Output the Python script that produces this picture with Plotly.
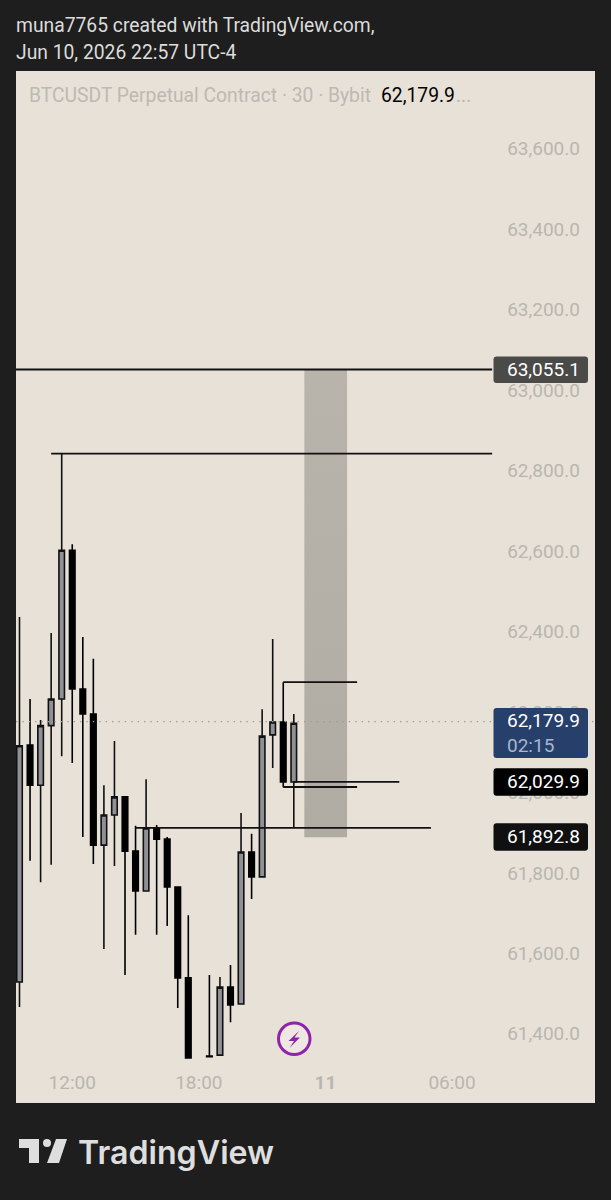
import plotly.graph_objects as go

# 30-minute candles, index 0 = first visible bar (None = bar not drawn)
idx   = list(range(27))
open_ = [61533,62122,62022,62170,62236,62606,62261,62199,61873,61948,61993,61858,61759,61916,61888,61769,61543,None,61349,61351,61520,61478,61856,61794,62147,62179,62030]
high  = [62440,62236,62184,62400,62846,62621,62390,62336,62022,62132,61993,61921,62037,61923,61893,61769,61699,None,61550,61545,61575,61953,61901,62211,62385,62278,62199]
low   = [61471,61834,61781,61824,62094,62077,61893,61826,61615,61821,61550,61650,61759,61650,61672,61468,61344,None,61346,61351,61433,61478,61739,61794,62065,62017,61916]
close = [62120,62022,62170,62236,62606,62261,62199,61873,61948,61993,61858,61759,61916,61888,61769,61543,61344,None,61347,61520,61476,61856,61794,62144,62179,62030,62176]

# Drawn horizontal levels: price, first bar, last bar
level_price = [63055.1, 62846, 61916, 62278, 62017.5, 62030]
level_start = [-0.4, 3.0, 11.0, 25.0, 25.0, 26.0]
level_end   = [44.8, 44.8, 39.0, 32.0, 32.0, 36.0]

box_left, box_right = 27.0, 31.05
box_top, box_bottom = 63055.1, 61892.8
last_price = 62179.9

price_ticks = [63600,63400,63200,63000,62800,62600,62400,62200,62000,61800,61600,61400]
price_tick_text = ["63,600.0","63,400.0","63,200.0","63,000.0","62,800.0","62,600.0","62,400.0","62,200.0","62,000.0","61,800.0","61,600.0","61,400.0"]
time_ticks = [5,17,29,41]
time_tick_text = ["12:00","18:00","<b>11</b>","06:00"]

W, H = 611, 1200
L, R, T, B = 16, 595, 71, 1103
BG, PANE, TICK = "#1e1e1e", "#e8e1d8", "#b9b6af"
FONT = "Roboto"
TICK_NUDGE = 4   # tick labels sit a little above their true price in the source

def px(x): return x / W
def py(y): return 1 - y / H
def ppath(points):
    return "M " + " L ".join(f"{px(a):.5f},{py(b):.5f}" for a, b in points) + " Z"
def round_rect(x0, y0, x1, y1, r=3):
    c = lambda a, b: f"{px(a):.5f},{py(b):.5f}"
    return (f"M {c(x0+r,y0)} L {c(x1-r,y0)} Q {c(x1,y0)} {c(x1,y0+r)} L {c(x1,y1-r)} Q {c(x1,y1)} {c(x1-r,y1)} "
            f"L {c(x0+r,y1)} Q {c(x0,y1)} {c(x0,y1-r)} L {c(x0,y0+r)} Q {c(x0,y0)} {c(x0+r,y0)} Z")

y_at = lambda y: 63055.1 - (y - 369.5) / 0.40236
x_at = lambda x: (x - 19.5) / 10.55

fig = go.Figure()

fig.add_trace(go.Scatter(
    x=[box_left, box_right, box_right, box_left, box_left],
    y=[box_top, box_top, box_bottom, box_bottom, box_top],
    mode="lines", line=dict(width=0), fill="toself",
    fillgradient=dict(type="vertical",
                      colorscale=[[0, "rgba(90,88,80,0.39)"], [1, "rgba(90,88,80,0.33)"]]),
    hoverinfo="skip", showlegend=False))

fig.add_trace(go.Scatter(
    x=[x_at(L), x_at(R)], y=[last_price, last_price], mode="lines",
    line=dict(color="#9d9c96", width=1.4, dash="1.4px 5px"),
    hoverinfo="skip", showlegend=False))

fig.add_trace(go.Candlestick(
    x=idx, open=open_, high=high, low=low, close=close,
    whiskerwidth=0,
    increasing=dict(line=dict(color="#111111", width=1.6), fillcolor="#8f9197"),
    decreasing=dict(line=dict(color="#000000", width=1.6), fillcolor="#000000"),
    showlegend=False, hoverinfo="skip"))

for p, a, b in zip(level_price, level_start, level_end):
    fig.add_trace(go.Scatter(x=[a, b], y=[p, p], mode="lines",
                             line=dict(color="#111111", width=1.8),
                             hoverinfo="skip", showlegend=False))

annotations = []
def text(x, y, s, color, size, family=FONT, weight=None):
    font = dict(family=family, size=size, color=color)
    if weight:
        font["weight"] = weight
    annotations.append(dict(
        xref="paper", yref="paper", x=px(x - 2), y=py(y), xanchor="left", yanchor="middle",
        text=s, showarrow=False, font=font))

text(16, 25, "muna7765 created with TradingView.com,", "#dcdcdc", 19.3)
text(16, 52, "Jun 10, 2026 22:57 UTC-4", "#dcdcdc", 19.3)
text(29, 96, "BTCUSDT Perpetual Contract · 30 · Bybit", "#bcb9b2", 19.3)
text(381, 96, "62,179.9", "#000000", 19.3)
text(456, 96, "...", "#bcb9b2", 19.3)
text(78, 1152, "TradingView", "#dedede", 32.2, family="Inter", weight=600)

shapes = [
    dict(type="path", xref="paper", yref="paper", line_width=0, fillcolor="#4a4a48",
         path=round_rect(493.5, 356.5, 588, 383)),
    dict(type="path", xref="paper", yref="paper", line_width=0, fillcolor="#27406b",
         path=round_rect(493.5, 708, 588, 758)),
    dict(type="path", xref="paper", yref="paper", line_width=0, fillcolor="#000000",
         path=round_rect(493.5, 768.3, 588, 795.7)),
    dict(type="path", xref="paper", yref="paper", line_width=0, fillcolor="#101010",
         path=round_rect(493.5, 823.3, 588, 850.7)),
    dict(type="path", xref="paper", yref="paper", line_width=0, fillcolor="#dedede",
         path=ppath([(19,1139),(39,1139),(39,1163),(29,1163),(29,1148),(19,1148)])),
    dict(type="circle", xref="paper", yref="paper", line_width=0, fillcolor="#dedede",
         x0=px(43), x1=px(51), y0=py(1147), y1=py(1139)),
    dict(type="path", xref="paper", yref="paper", line_width=0, fillcolor="#dedede",
         path=ppath([(56,1139),(67,1139),(59,1163),(47,1163)])),
    dict(type="circle", xref="paper", yref="paper", fillcolor="#eee8e1",
         line=dict(color="#8e24aa", width=3),
         x0=px(278.5), x1=px(310), y0=py(1054.5), y1=py(1023)),
    dict(type="path", xref="paper", yref="paper", line_width=0, fillcolor="#8e24aa",
         path=ppath([(299,1031),(288.5,1041),(294,1041),(289.5,1048),(300,1037.5),(294.5,1037.5)])),
]

text(507, 369.5, "63,055.1", "#ffffff", 19)
text(507, 720, "62,179.9", "#ffffff", 19)
text(507, 745, "02:15", "#a9b6cc", 19)
text(507, 781, "62,029.9", "#ffffff", 19)
text(507, 836.5, "61,892.8", "#ffffff", 19)

fig.update_layout(
    width=W, height=H, margin=dict(l=0, r=0, t=0, b=0),
    paper_bgcolor=BG, plot_bgcolor=PANE, showlegend=False, boxgap=0.25,
    font=dict(family=FONT), annotations=annotations, shapes=shapes,
    xaxis=dict(domain=[px(L), px(R)], range=[x_at(L), x_at(R)],
               rangeslider=dict(visible=False), showgrid=False, zeroline=False, showline=False,
               tickmode="array", tickvals=time_ticks, ticktext=time_tick_text,
               ticklabelposition="inside", ticks="", ticklabelstandoff=7,
               tickfont=dict(family=FONT, size=19, color=TICK)),
    yaxis=dict(domain=[py(B), py(T)], range=[y_at(B), y_at(T)], side="right",
               showgrid=False, zeroline=False, showline=False,
               tickmode="array", tickvals=[v + TICK_NUDGE for v in price_ticks], ticktext=price_tick_text,
               ticklabelposition="inside", ticks="", ticklabelstandoff=12,
               tickfont=dict(family=FONT, size=19, color=TICK)),
)

fig.write_html("out.html", config=dict(displayModeBar=False),
               post_script="document.body.style.margin='0';document.body.style.background='#1e1e1e';")
